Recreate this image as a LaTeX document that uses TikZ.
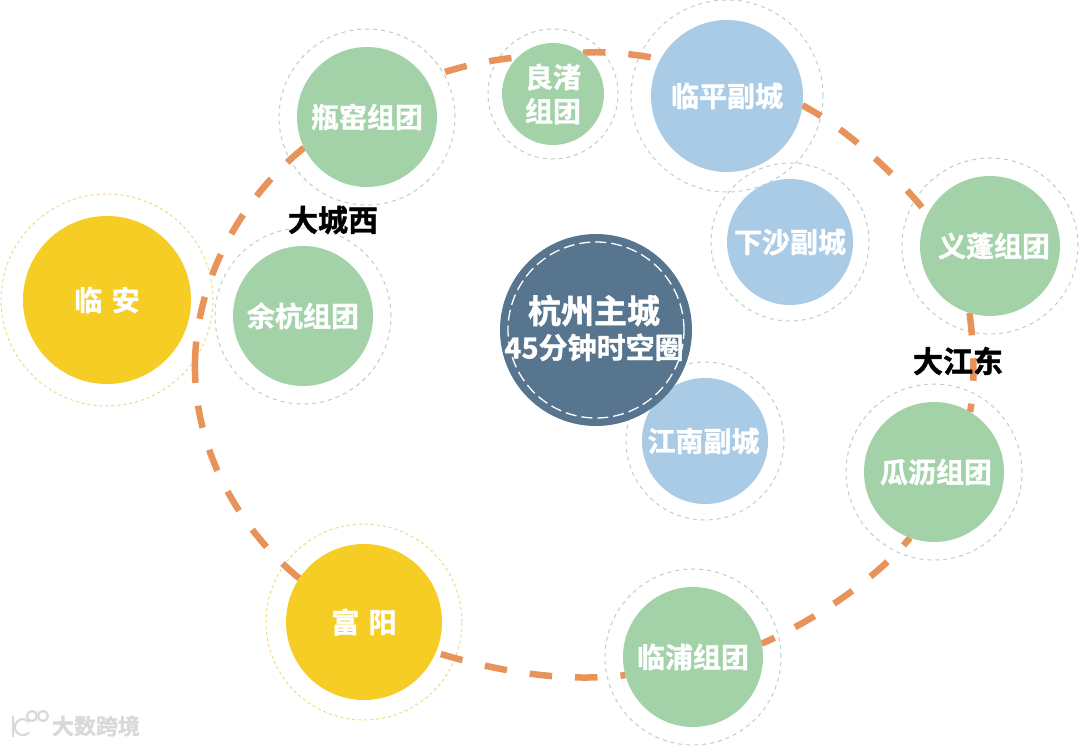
\documentclass[tikz,border=0pt]{standalone}
\usepackage{fontspec}
\setmainfont[BoldFont={Noto Sans CJK SC Bold},BoldFeatures={FakeBold=1.3}]{Noto Sans CJK SC}
\usetikzlibrary{backgrounds}
\definecolor{gr}{HTML}{A3D2A9}
\definecolor{bl}{HTML}{A9CBE6}
\definecolor{ye}{HTML}{F5CD24}
\definecolor{dk}{HTML}{57758F}
\definecolor{or}{HTML}{E8935A}
\definecolor{rg}{HTML}{B9CFC9}
\definecolor{rb}{HTML}{BFCBD3}
\definecolor{ry}{HTML}{EFD983}
\tikzset{
  blob/.style={circle,inner sep=0pt,outer sep=0pt,text=white,align=center,font=\fontsize{28}{34}\selectfont\bfseries},
  ringg/.style={circle,draw=rg,line width=1pt,dash pattern=on 4pt off 4pt,inner sep=0pt,outer sep=0pt},
  ringb/.style={ringg,draw=rb},
  ringy/.style={ringg,draw=ry,dash pattern=on 3pt off 3pt},
  ringw/.style={circle,draw=white,line width=1.3pt,dash pattern=on 11pt off 5pt,inner sep=0pt,outer sep=0pt},
  link/.style={draw=or,line width=6.5pt,dash pattern=on 22.5pt off 23pt},
  tag/.style={text=black,inner sep=0pt,font=\fontsize{30}{34}\selectfont\bfseries},
  wmline/.style={draw=black!15,line width=2.2pt}
}
\begin{document}
\begin{tikzpicture}[x=1pt,y=-1pt]
\useasboundingbox (0,0) rectangle (1080,746);
% filled nodes
\node[blob,fill=gr,minimum size=102pt] (lz) at (553,94) {良渚\\组团};
\node[blob,fill=gr,minimum size=140pt] (pp) at (367,117) {瓶窑组团};
\node[blob,fill=bl,minimum size=152pt] (pf) at (727,96) {临平副城};
\node[blob,fill=bl,minimum size=126pt] (xs) at (790,242) {下沙副城};
\node[blob,fill=gr,minimum size=140pt] (yp) at (990,246) {\hspace*{8pt}义蓬组团};
\node[blob,fill=gr,minimum size=140pt] (yh) at (303,316) {余杭组团};
\node[blob,fill=ye,minimum size=168pt] (la) at (107,300) {临\,\,安};
\node[blob,fill=bl,minimum size=126pt] (jn) at (705,441) {江南副城\hspace*{3pt}};
\node[blob,fill=gr,minimum size=140pt] (gl) at (934,472) {\hspace*{4pt}瓜沥组团};
\node[blob,fill=ye,minimum size=156pt] (fy) at (364,622) {富\,\,阳};
\node[blob,fill=gr,minimum size=140pt] (lp) at (693,657) {临浦组团};
\node[blob,fill=dk,minimum size=192pt] (hz) at (596,330) {};
\node[ringw,minimum size=176pt] (hzr) at (hz) {};
\node[blob,font=\bfseries] (hzt) at (594,328) {{\fontsize{33}{38}\selectfont 杭州主城}\\[6pt]{\fontsize{29}{36}\selectfont 45分钟时空圈}};
% labels
\node[tag] (dcx) at (333,220) {大城西};
\node[tag] (djd) at (958,361) {大江东};
\coordinate (seam) at (195,361);
\begin{scope}[on background layer]
  \node[ringg,minimum size=130pt] (lzr) at (lz) {};
  \node[ringg,minimum size=176pt] (ppr) at (pp) {};
  \node[ringb,minimum size=192pt] (pfr) at (pf) {};
  \node[ringb,minimum size=158pt] (xsr) at (xs) {};
  \node[ringg,minimum size=176pt] (ypr) at (yp) {};
  \node[ringb,minimum size=176pt] (yhr) at (yh) {};
  \node[ringy,minimum size=212pt] (lar) at (la) {};
  \node[ringb,minimum size=158pt] (jnr) at (jn) {};
  \node[ringg,minimum size=176pt] (glr) at (gl) {};
  \node[ringy,minimum size=196pt] (fyr) at (fy) {};
  \node[ringg,minimum size=176pt] (lpr) at (lp) {};
  % connectors
  \draw[link,dash phase=25pt] (pp.33) .. controls (455,67) and (490,60) .. (lz.134);
  \draw[link] (lz.54) .. controls (605,51) and (635,54) .. (pf.151);
  \draw[link,dash phase=1pt] (pf.-7) .. controls (845,128) and (892,170) .. (yp.153);
  \draw[link] (yp.-107) .. controls (973,340) and (976,380) .. (gl.59);
  \draw[link,dash phase=12.5pt] (gl.-110) .. controls (875,580) and (815,620) .. (lp.11);
  \draw[link,dash phase=17.5pt] (lp.-165) .. controls (570,682) and (505,674) .. (fy.-23);
  \draw[link] (fy.146) .. controls (240,530) and (193,450) .. (seam);
  \draw[link,dash phase=3pt] (seam) .. controls (197,275) and (245,195) .. (pp.-154);
\end{scope}
% watermark
\draw[wmline] (13,716) -- (13,737);
\draw[wmline] (29,722) arc (40:320:8pt);
\draw[wmline] (32,716) circle (5pt);
\draw[wmline] (43,716) circle (5pt);
\node[inner sep=0pt,text=black!15,font=\fontsize{22}{24}\selectfont\bfseries] (wm) at (96,726) {大数跨境};
\end{tikzpicture}
\end{document}
